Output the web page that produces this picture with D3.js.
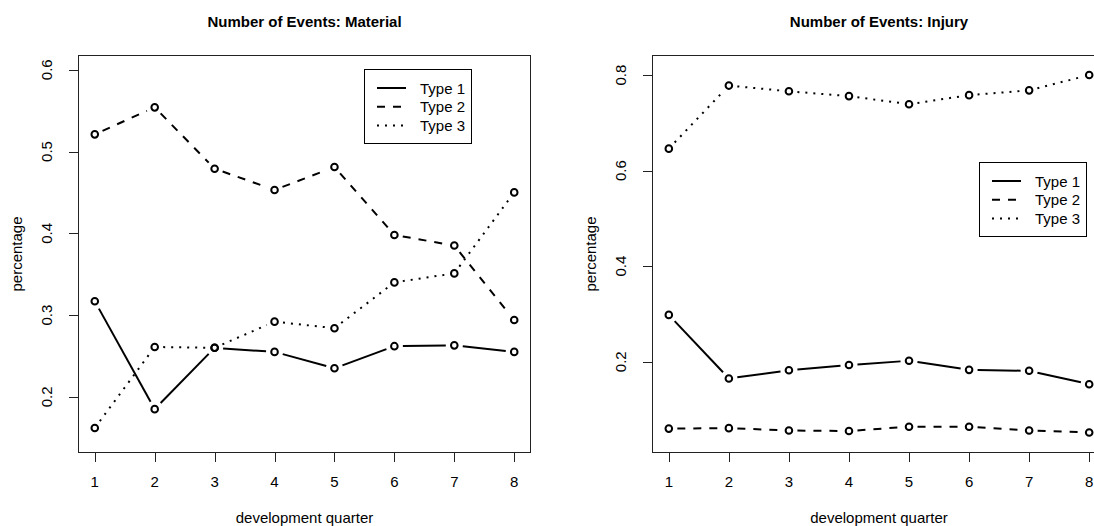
<!DOCTYPE html>
<html>
<head>
<meta charset="utf-8">
<script src="https://cdn.jsdelivr.net/npm/d3@7"></script>
<style>
  body { margin: 0; background: #fff; }
  svg { display: block; font-family: "Liberation Sans", Arial, sans-serif; }
</style>
</head>
<body>
<div id="chart"></div>
<script>
// development quarters on the x axis
const quarters = [1, 2, 3, 4, 5, 6, 7, 8];
const seriesNames = ["Type 1", "Type 2", "Type 3"];

// share of events, material damage
const materialType1 = [0.317, 0.185, 0.260, 0.255, 0.235, 0.262, 0.263, 0.255];
const materialType2 = [0.521, 0.554, 0.479, 0.453, 0.481, 0.398, 0.385, 0.294];
const materialType3 = [0.162, 0.261, 0.260, 0.292, 0.284, 0.340, 0.351, 0.450];
const materialTicks = [0.2, 0.3, 0.4, 0.5, 0.6];

// share of events, injury
const injuryType1 = [0.298, 0.165, 0.182, 0.193, 0.202, 0.183, 0.181, 0.153];
const injuryType2 = [0.060, 0.061, 0.056, 0.055, 0.064, 0.064, 0.056, 0.052];
const injuryType3 = [0.646, 0.778, 0.766, 0.756, 0.739, 0.758, 0.768, 0.800];
const injuryTicks = [0.2, 0.4, 0.6, 0.8];

const W = 1094, H = 526;
const dashes = [null, "8,8", "2,6"];

let svg = d3.select("#chart").append("svg")
    .attr("width", W)
    .attr("height", H);

let drawPanel = function(p) {
    let g = svg.append("g");
    let x = d3.scaleLinear().domain([0.72, 8.28]).range([p.left, p.right]);
    let y = d3.scaleLinear().domain(p.yDomain).range([452.5, 55]);

    // series, R type="b": segments stop short of the points
    const gap = 8.5;
    p.series.forEach(function(vals, i) {
        let pts = vals.map((v, k) => [x(quarters[k]), y(v)]);
        for (let k = 0; k < pts.length - 1; k++) {
            let [x0, y0] = pts[k], [x1, y1] = pts[k + 1];
            let d = Math.hypot(x1 - x0, y1 - y0);
            if (d <= 2 * gap) continue;
            let ux = (x1 - x0) / d, uy = (y1 - y0) / d;
            g.append("line")
                .attr("x1", x0 + ux * gap).attr("y1", y0 + uy * gap)
                .attr("x2", x1 - ux * gap).attr("y2", y1 - uy * gap)
                .attr("stroke", "#000")
                .attr("stroke-width", 2)
                .attr("stroke-dasharray", dashes[i]);
        }
        g.selectAll(null).data(pts).enter().append("circle")
            .attr("cx", d => d[0]).attr("cy", d => d[1])
            .attr("r", 3.3)
            .attr("fill", "none")
            .attr("stroke", "#000")
            .attr("stroke-width", 2);
    });

    // box
    g.append("rect")
        .attr("x", p.left + 0.5).attr("y", 55.5)
        .attr("width", p.right - p.left - 1).attr("height", 397)
        .attr("fill", "none")
        .attr("stroke", "#222")
        .attr("stroke-width", 1);

    // x axis
    let xAxis = g.append("g").attr("transform", "translate(0,453)");
    xAxis.selectAll("line").data(quarters).enter().append("line")
        .attr("x1", d => Math.round(x(d)) + 0.5).attr("x2", d => Math.round(x(d)) + 0.5)
        .attr("y1", 0).attr("y2", 9)
        .attr("stroke", "#222");
    xAxis.selectAll("text").data(quarters).enter().append("text")
        .attr("x", d => x(d)).attr("y", 34)
        .attr("text-anchor", "middle")
        .attr("font-size", 15)
        .text(d => d);
    let xSpan = x.range();
    g.append("line")
        .attr("x1", Math.round(x(1)) + 0.5).attr("x2", Math.round(x(8)) + 0.5)
        .attr("y1", 462.5).attr("y2", 462.5)
        .attr("stroke", "none");

    // y axis
    let yAxis = g.append("g");
    yAxis.selectAll("line").data(p.ticks).enter().append("line")
        .attr("x1", p.left - 9).attr("x2", p.left)
        .attr("y1", d => Math.round(y(d)) + 0.5).attr("y2", d => Math.round(y(d)) + 0.5)
        .attr("stroke", "#222");
    yAxis.selectAll("text").data(p.ticks).enter().append("text")
        .attr("transform", d => "translate(" + (p.left - 26) + "," + y(d) + ") rotate(-90)")
        .attr("text-anchor", "middle")
        .attr("font-size", 15)
        .text(d => d3.format(".1f")(d));

    // titles
    g.append("text")
        .attr("x", (xSpan[0] + xSpan[1]) / 2).attr("y", 27)
        .attr("text-anchor", "middle")
        .attr("font-size", 15)
        .attr("font-weight", "bold")
        .text(p.title);
    g.append("text")
        .attr("x", (xSpan[0] + xSpan[1]) / 2).attr("y", 523)
        .attr("text-anchor", "middle")
        .attr("font-size", 15)
        .text("development quarter");
    g.append("text")
        .attr("transform", "translate(" + (p.left - 56) + "," + 254 + ") rotate(-90)")
        .attr("text-anchor", "middle")
        .attr("font-size", 15)
        .text("percentage");

    // legend
    let lg = g.append("g").attr("transform", "translate(" + p.legend[0] + "," + p.legend[1] + ")");
    lg.append("rect")
        .attr("x", 0.5).attr("y", 0.5)
        .attr("width", 107).attr("height", 74)
        .attr("fill", "#fff")
        .attr("stroke", "#000");
    seriesNames.forEach(function(name, i) {
        let ly = 19 + i * 18.7;
        lg.append("line")
            .attr("x1", 13).attr("x2", 42)
            .attr("y1", ly).attr("y2", ly)
            .attr("stroke", "#000")
            .attr("stroke-width", 2)
            .attr("stroke-dasharray", dashes[i]);
        lg.append("text")
            .attr("x", 56).attr("y", ly + 5.5)
            .attr("font-size", 15)
            .text(name);
    });
}

drawPanel({
    title: "Number of Events: Material",
    left: 78, right: 531,
    yDomain: [0.132, 0.618],
    ticks: materialTicks,
    series: [materialType1, materialType2, materialType3],
    legend: [364, 69]
});

drawPanel({
    title: "Number of Events: Injury",
    left: 652, right: 1106,
    yDomain: [0.010, 0.842],
    ticks: injuryTicks,
    series: [injuryType1, injuryType2, injuryType3],
    legend: [979, 162]
});
</script>
</body>
</html>
